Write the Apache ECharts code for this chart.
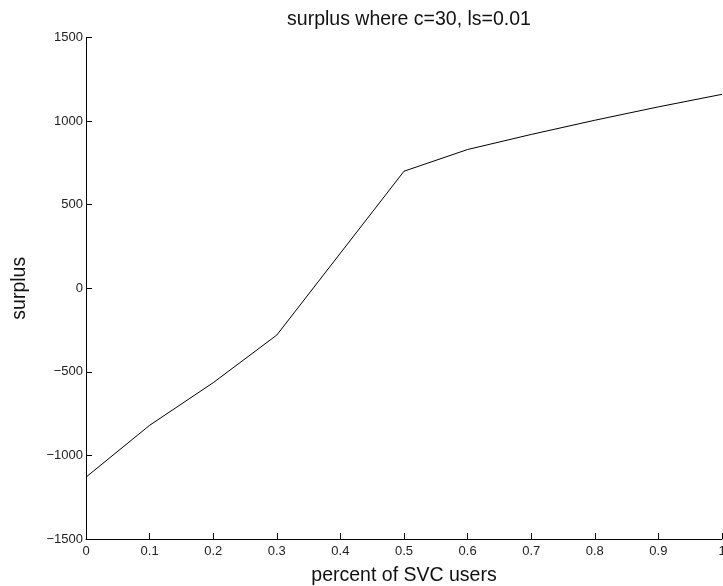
<!DOCTYPE html>
<html>
<head>
<meta charset="utf-8">
<script src="https://cdn.jsdelivr.net/npm/echarts@6/dist/echarts.min.js"></script>
<style>html,body{margin:0;padding:0;background:#fff}#c{width:723px;height:586px}</style>
</head>
<body>
<div id="c"></div>
<script>
const xValues = [0, 0.1, 0.2, 0.3, 0.4, 0.5, 0.6, 0.7, 0.8, 0.9, 1.0];
const surplus = [-1130, -820, -565, -280, 210, 700, 830, 920, 1005, 1085, 1160];
const yTicks = [-1500, -1000, -500, 0, 500, 1000, 1500];
const xTicks = [0, 0.1, 0.2, 0.3, 0.4, 0.5, 0.6, 0.7, 0.8, 0.9, 1];

const chart = echarts.init(document.getElementById('c'), null, {renderer: 'canvas'});
const font = 'Liberation Sans, Arial, Helvetica, sans-serif';
chart.setOption({
  animation: false,
  backgroundColor: '#fff',
  title: {
    text: 'surplus where c=30, ls=0.01',
    left: 404, top: 5, textAlign: 'center',
    textStyle: {fontFamily: font, fontSize: 19.5, fontWeight: 'normal', color: '#111'}
  },
  grid: {left: 86, right: 1, top: 37.5, bottom: 47, containLabel: false, outerBoundsMode: 'none'},
  xAxis: {
    type: 'value', min: xTicks[0], max: xTicks[xTicks.length-1], interval: 0.1,
    name: 'percent of SVC users', nameLocation: 'middle', nameGap: 27,
    nameTextStyle: {fontFamily: font, fontSize: 19.5, color: '#111'},
    axisLine: {onZero: false, lineStyle: {color: '#000', width: 1}},
    axisTick: {inside: true, length: 6, lineStyle: {color: '#000'}},
    axisLabel: {fontFamily: font, fontSize: 13, color: '#222', margin: 6, hideOverlap: false,
      formatter: v => String(parseFloat(v.toFixed(1)))},
    splitLine: {show: false}
  },
  yAxis: {
    type: 'value', min: yTicks[0], max: yTicks[yTicks.length-1], interval: 500,
    name: 'surplus', nameLocation: 'middle', nameGap: 56,
    nameTextStyle: {fontFamily: font, fontSize: 19.5, color: '#111'},
    axisLine: {show: true, lineStyle: {color: '#000', width: 1}},
    axisTick: {show: true, inside: true, length: 6, lineStyle: {color: '#000'}},
    axisLabel: {fontFamily: font, fontSize: 13, color: '#222', margin: 3,
      formatter: v => (v < 0 ? '\u2212' + Math.abs(v) : String(v))},
    splitLine: {show: false}
  },
  series: [{
    type: 'line',
    data: xValues.map((x, i) => [x, surplus[i]]),
    showSymbol: false,
    lineStyle: {color: '#000', width: 1},
    clip: false
  }]
});
</script>
</body>
</html>
